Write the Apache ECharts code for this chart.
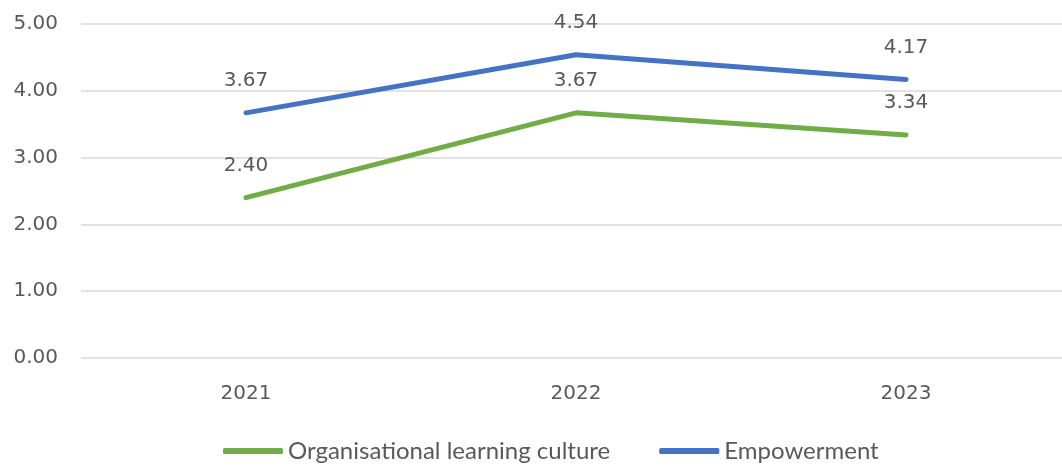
<!DOCTYPE html>
<html>
<head>
<meta charset="utf-8">
<script src="https://cdn.jsdelivr.net/npm/echarts@6/dist/echarts.min.js"></script>
<style>
  html, body { margin: 0; padding: 0; background: #fff; }
  #chart { width: 1062px; height: 469px; }
</style>
</head>
<body>
<div id="chart"></div>
<script>
const years = ['2021', '2022', '2023'];
const learningCulture = [2.40, 3.67, 3.34];
const empowerment = [3.67, 4.54, 4.17];
const yTicks = [0, 1, 2, 3, 4, 5];

const textColor = '#595959';
const numFont = 'DejaVu Sans, sans-serif';
const legendFont = 'Lato, sans-serif';

const chart = echarts.init(document.getElementById('chart'), null, { renderer: 'canvas' });

function lineSeries(name, data, color) {
  return {
    name: name,
    type: 'line',
    data: data,
    symbol: 'circle',
    symbolSize: 0.1,
    showSymbol: true,
    lineStyle: { width: 5, color: color, cap: 'round', join: 'round' },
    itemStyle: { color: color },
    label: {
      show: true,
      position: 'top',
      distance: 22,
      color: textColor,
      fontSize: 20,
      fontFamily: numFont,
      formatter: p => p.value.toFixed(2)
    },
    labelLayout: { hideOverlap: false },
    animation: false
  };
}

chart.setOption({
  backgroundColor: '#ffffff',
  // the plot runs past the right edge of the canvas, so the grid is not clamped
  grid: { left: 81, top: 24, width: 990, height: 334, containLabel: false, outerBoundsMode: 'none' },
  legend: {
    left: 218,
    top: 434,
    itemWidth: 60,
    itemHeight: 6,
    itemGap: 49,
    icon: 'roundRect',
    textStyle: { color: textColor, fontSize: 24, fontFamily: legendFont },
    data: ['Organisational learning culture', 'Empowerment']
  },
  xAxis: {
    type: 'category',
    data: years,
    boundaryGap: true,
    axisLine: { show: false },
    axisTick: { show: false },
    axisLabel: { color: textColor, fontSize: 20, fontFamily: numFont, margin: 26 }
  },
  yAxis: {
    type: 'value',
    min: yTicks[0],
    max: yTicks[yTicks.length - 1],
    interval: 1,
    axisLine: { show: false },
    axisTick: { show: false },
    splitLine: { lineStyle: { color: '#d9d9d9', width: 1.5 } },
    axisLabel: { color: textColor, fontSize: 20, fontFamily: numFont, margin: 23, formatter: v => v.toFixed(2) }
  },
  series: [
    lineSeries('Organisational learning culture', learningCulture, '#70AD47'),
    lineSeries('Empowerment', empowerment, '#4472C4')
  ]
});
</script>
</body>
</html>
